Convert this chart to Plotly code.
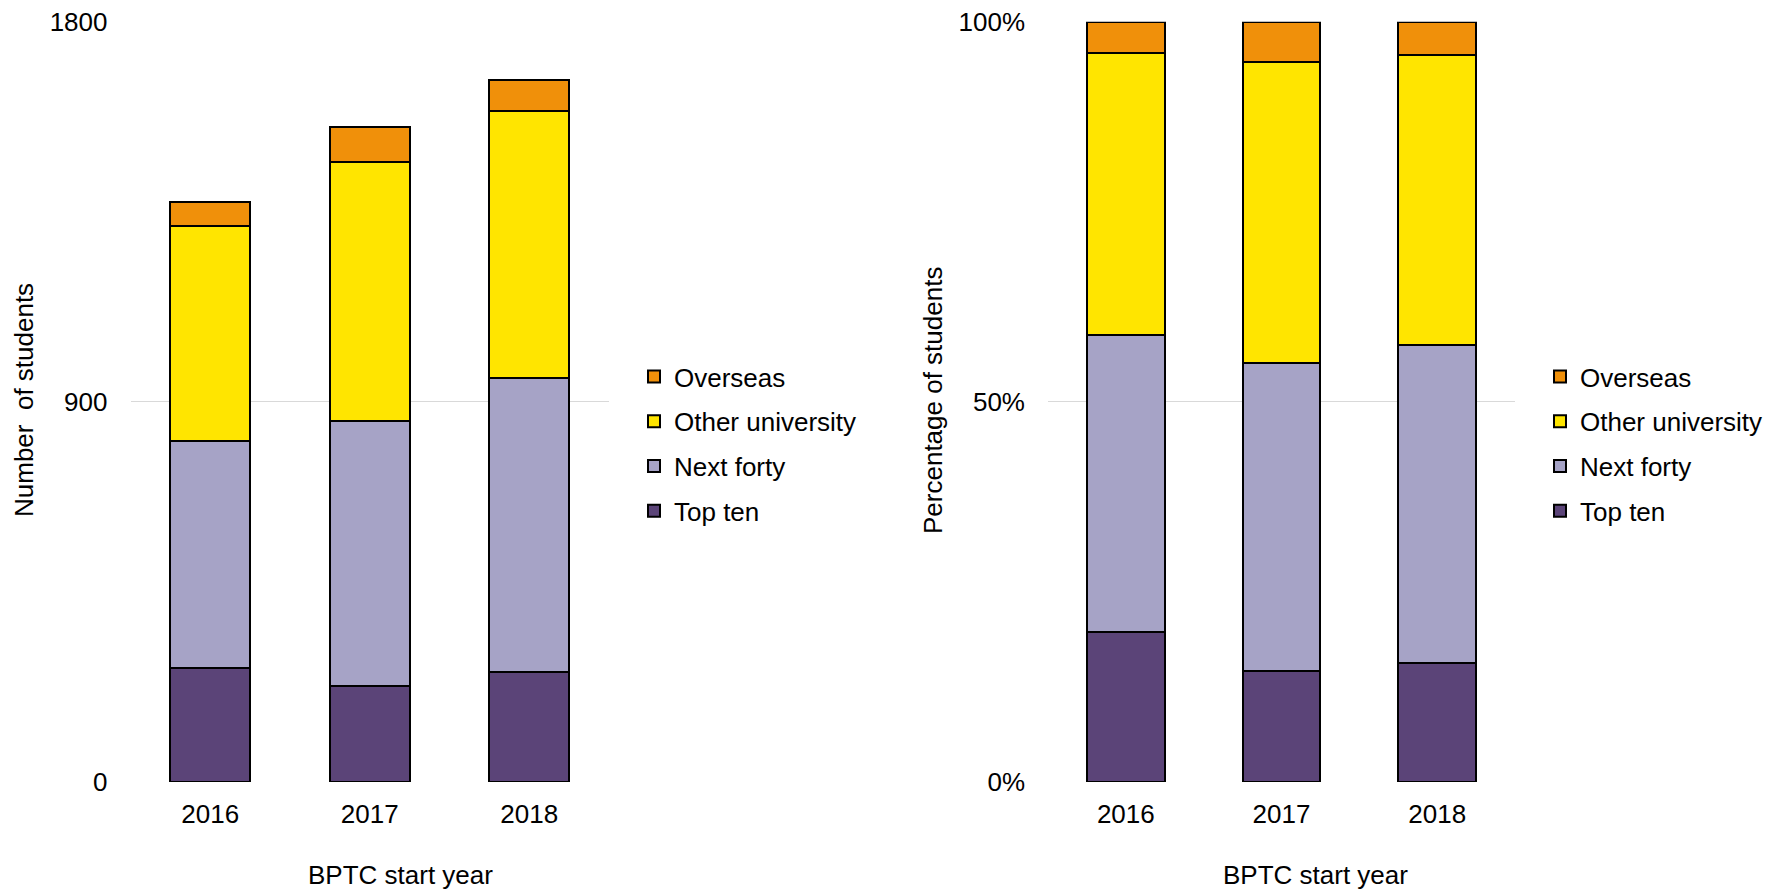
import plotly.graph_objects as go

years = ["2016", "2017", "2018"]
top_ten = [271, 227, 260]
next_forty = [536, 627, 696]
other_university = [509, 613, 633]
overseas = [56, 83, 73]

series_names = ["Top ten", "Next forty", "Other university", "Overseas"]
series_values = [top_ten, next_forty, other_university, overseas]
series_colors = ["#5b4478", "#a6a3c6", "#ffe500", "#f0900a"]

totals = [sum(v[i] for v in series_values) for i in range(len(years))]
series_pct = [[100.0 * v[i] / totals[i] for i in range(len(years))] for v in series_values]

W, H = 1775, 896
FONT = "Liberation Sans, Arial, sans-serif"
FS = 26
OUTLINE = 2

def px(x):
    return x / W

def py(y):
    return 1 - y / H

fig = go.Figure()
n = len(series_names)

for k, (name, vals, col) in enumerate(zip(series_names, series_values, series_colors)):
    fig.add_trace(go.Bar(
        x=years, y=vals, name=name, marker=dict(color=col, line=dict(color="black", width=OUTLINE)),
        xaxis="x", yaxis="y", legend="legend", legendgroup="L" + name, legendrank=n - k,
    ))

for k, (name, vals, col) in enumerate(zip(series_names, series_pct, series_colors)):
    fig.add_trace(go.Bar(
        x=years, y=vals, name=name, marker=dict(color=col, line=dict(color="black", width=OUTLINE)),
        xaxis="x2", yaxis="y2", legend="legend2", legendgroup="R" + name, legendrank=n - k,
    ))

plot_top, plot_bot = 21.7, 782.0
ydom = [py(plot_bot), py(plot_top)]

axis_common = dict(
    showline=False, zeroline=False, ticks="", automargin=False,
    ticklabeloverflow="allow",
    tickfont=dict(family=FONT, size=FS, color="black"),
)

fig.update_layout(
    width=W, height=H,
    margin=dict(l=0, r=0, t=0, b=0, autoexpand=False),
    paper_bgcolor="white", plot_bgcolor="white",
    barmode="stack", bargap=0.5,
    font=dict(family=FONT, size=FS, color="black"),
    xaxis=dict(domain=[px(130.5), px(609)], anchor="y", showgrid=False,
               ticklabelstandoff=14, **axis_common),
    yaxis=dict(domain=ydom, anchor="x", range=[0, 1800], tickvals=[0, 900, 1800],
               ticktext=["0", "900", "1800"],
               showgrid=True, gridcolor="#d9d9d9", gridwidth=1,
               ticklabelstandoff=22, **axis_common),
    xaxis2=dict(domain=[px(1048), px(1515)], anchor="y2", showgrid=False,
                ticklabelstandoff=14, **axis_common),
    yaxis2=dict(domain=ydom, anchor="x2", range=[0, 100], tickvals=[0, 50, 100],
                ticktext=["0%", "50%", "100%"], showgrid=True, gridcolor="#d9d9d9", gridwidth=1,
                ticklabelstandoff=22, **axis_common),
    legend=dict(x=px(634), y=py(353), xanchor="left", yanchor="top",
                traceorder="grouped", tracegroupgap=8,
                font=dict(family=FONT, size=FS, color="black"), bgcolor="rgba(0,0,0,0)"),
    legend2=dict(x=px(1540), y=py(353), xanchor="left", yanchor="top",
                 traceorder="grouped", tracegroupgap=8,
                 font=dict(family=FONT, size=FS, color="black"), bgcolor="rgba(0,0,0,0)"),
    annotations=[
        dict(text="Number  of students", x=px(24), y=py(400), xref="paper", yref="paper",
             textangle=-90, showarrow=False, font=dict(family=FONT, size=FS, color="black"),
             xanchor="center", yanchor="middle"),
        dict(text="Percentage of students", x=px(933), y=py(401), xref="paper", yref="paper",
             textangle=-90, showarrow=False, font=dict(family=FONT, size=FS, color="black"),
             xanchor="center", yanchor="middle"),
        dict(text="BPTC start year", x=px(400), y=py(875), xref="paper", yref="paper",
             showarrow=False, font=dict(family=FONT, size=FS, color="black"),
             xanchor="center", yanchor="middle"),
        dict(text="BPTC start year", x=px(1315), y=py(875), xref="paper", yref="paper",
             showarrow=False, font=dict(family=FONT, size=FS, color="black"),
             xanchor="center", yanchor="middle"),
    ],
)

fig.write_html("out.html", config={"displayModeBar": False},
               post_script="document.body.style.margin='0';")
